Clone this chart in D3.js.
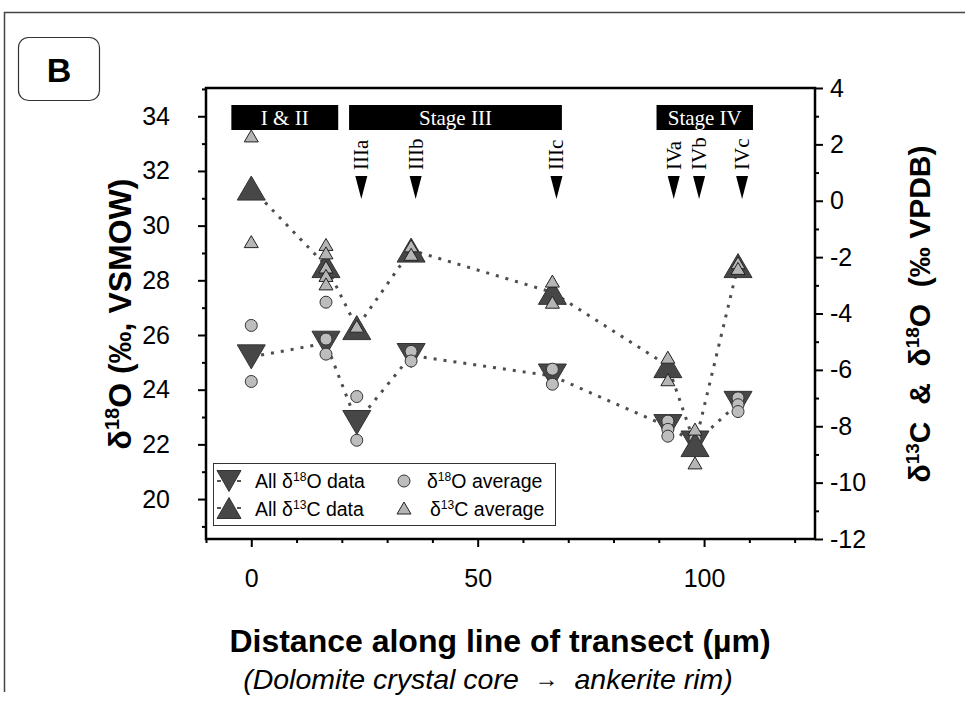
<!DOCTYPE html>
<html><head><meta charset="utf-8">
<script src="https://cdn.jsdelivr.net/npm/d3@7/dist/d3.min.js"></script>
<style>
body{margin:0;background:#fff}
svg text{font-family:"Liberation Sans",Arial,sans-serif}
</style></head><body>
<svg id="c" width="965" height="702"></svg>
<script>
// ---- data ----
const distances = [0, 16.5, 23.3, 35.3, 66.5, 92, 98, 107.5];
const d18O_all = [25.2, 25.7, 22.8, 25.25, 24.5, 22.65, 22.05, 23.5];
const d13C_all = [0.45, -2.3, -4.5, -1.75, -3.25, -5.85, -8.65, -2.3];
const d18O_avgDist = [0,0,16.5,16.5,16.5,23.3,23.3,35.3,35.3,66.5,66.5,92,92,92,98,98,107.5,107.5,107.5];
const d18O_avg = [26.35,24.3,27.2,25.85,25.3,23.75,22.15,25.4,25.05,24.75,24.2,22.85,22.55,22.3,22.2,21.85,23.7,23.45,23.2];
const d13C_avgDist = [0,0,16.5,16.5,16.5,16.5,16.5,23.3,35.3,35.3,66.5,66.5,92,92,98,98,107.5,107.5];
const d13C_avg = [2.3,-1.45,-1.55,-1.85,-2.35,-2.65,-2.95,-4.45,-1.6,-1.9,-2.85,-3.6,-5.55,-6.35,-8.1,-9.3,-2.2,-2.4];
const stageNames = ["I & II","Stage III","Stage IV"];
const stageStart = [-4.4, 21.6, 89.5];
const stageEnd = [19.2, 68.6, 110.8];
const subStages = ["IIIa","IIIb","IIIc","IVa","IVb","IVc"];
const subStagePos = [24.3, 36.3, 67.4, 93.3, 98.9, 108.4];
const xTicks = [0, 50, 100];
const xMinor = [-10,10,20,30,40,60,70,80,90,110,120];
const leftTicks = [20,22,24,26,28,30,32,34];
const leftMinor = [19,21,23,25,27,29,31,33,35];
const rightTicks = [-12,-10,-8,-6,-4,-2,0,2,4];
const rightMinor = [-11,-9,-7,-5,-3,-1,1,3];

// ---- layout ----
const L = 206, R = 815, T = 88, B = 539;
const svg = d3.select("#c");
const x = d3.scaleLinear().domain([-10, 124.5]).range([L, R]);
const yR = d3.scaleLinear().domain([-12, 4]).range([B, T]);
const yL = d3.scaleLinear().domain([1.03091*-12+30.91, 1.03091*4+30.91]).range([B, T]);

// outer frame
svg.append("path").attr("d", "M4.5,692V12.5H965").attr("fill","none").attr("stroke","#444").attr("stroke-width",1.5);
// B box
svg.append("rect").attr("x",18.5).attr("y",37.5).attr("width",81).attr("height",63).attr("rx",10)
  .attr("fill","#fff").attr("stroke","#333").attr("stroke-width",1.2);
svg.append("text").attr("x",59).attr("y",82).attr("text-anchor","middle")
  .attr("font-size",34).attr("font-weight","bold").text("B");

// axes
function styleAxis(g){ g.select(".domain").remove(); g.selectAll("line").attr("stroke","#000").attr("stroke-width",2);
  g.selectAll("text").attr("font-size",25).attr("fill","#000"); }
const fmt = d => String(d);
svg.append("g").attr("transform",`translate(${L},0)`).call(d3.axisLeft(yL).tickValues(leftTicks).tickSize(8).tickPadding(28).tickFormat(fmt)).call(styleAxis);
svg.append("g").attr("transform",`translate(${L},0)`).call(d3.axisLeft(yL).tickValues(leftMinor.filter(v=>yL(v)>=T&&yL(v)<=B)).tickSize(4).tickFormat("")).call(styleAxis);
svg.append("g").attr("transform",`translate(${R},0)`).call(d3.axisRight(yR).tickValues(rightTicks).tickSize(8).tickPadding(7).tickFormat(fmt)).call(styleAxis);
svg.append("g").attr("transform",`translate(${R},0)`).call(d3.axisRight(yR).tickValues(rightMinor).tickSize(4).tickFormat("")).call(styleAxis);
svg.append("g").attr("transform",`translate(0,${B})`).call(d3.axisBottom(x).tickValues(xTicks).tickSize(8).tickPadding(22).tickFormat(fmt)).call(styleAxis);
svg.append("g").attr("transform",`translate(0,${B})`).call(d3.axisBottom(x).tickValues(xMinor).tickSize(4).tickFormat("")).call(styleAxis);
// plot frame
svg.append("rect").attr("x",L).attr("y",T).attr("width",R-L).attr("height",B-T)
  .attr("fill","none").attr("stroke","#000").attr("stroke-width",2.5);

// stage bars
const serif = "'Liberation Serif','Times New Roman',serif";
const stages = svg.append("g");
stageNames.forEach((n,i)=>{
  stages.append("rect").attr("x",x(stageStart[i])).attr("y",105).attr("width",x(stageEnd[i])-x(stageStart[i])).attr("height",25).attr("fill","#000");
  stages.append("text").attr("x",(x(stageStart[i])+x(stageEnd[i]))/2).attr("y",125).attr("text-anchor","middle")
    .attr("fill","#fff").attr("font-size",21).style("font-family",serif).text(n);
});
subStages.forEach((n,i)=>{
  const cx = x(subStagePos[i]);
  stages.append("text").attr("transform",`translate(${cx+7},170) rotate(-90)`).attr("text-anchor","start")
    .attr("font-size",21).style("font-family",serif).attr("fill","#000").text(n);
  stages.append("path").attr("d",`M${cx-6},176L${cx+6},176L${cx},199Z`).attr("fill","#000");
});

// lines
const lineO = d3.line().x((d,i)=>x(distances[i])).y(d=>yL(d));
const lineC = d3.line().x((d,i)=>x(distances[i])).y(d=>yR(d));
svg.append("path").attr("d",lineO(d18O_all)).attr("fill","none").attr("stroke","#4d4d4d").attr("stroke-width",3).attr("stroke-dasharray","3,7");
svg.append("path").attr("d",lineC(d13C_all)).attr("fill","none").attr("stroke","#4d4d4d").attr("stroke-width",3).attr("stroke-dasharray","3,7");

function tri(w,h,down){ return down ? `M${-w/2},${-h/2}L${w/2},${-h/2}L0,${h/2}Z` : `M${-w/2},${h/2}L${w/2},${h/2}L0,${-h/2}Z`; }
const dark = "#474747", light = "#b5b5b5";
// O all
svg.append("g").selectAll("path").data(d18O_all).join("path")
  .attr("transform",(d,i)=>`translate(${x(distances[i])},${yL(d)})`).attr("d",tri(28,24,true))
  .attr("fill",dark).attr("stroke","#333").attr("stroke-width",1);
// O avg
svg.append("g").selectAll("circle").data(d18O_avg).join("circle")
  .attr("cx",(d,i)=>x(d18O_avgDist[i])).attr("cy",d=>yL(d)).attr("r",6)
  .attr("fill","#bdbdbd").attr("stroke","#333").attr("stroke-width",1);
// C all
svg.append("g").selectAll("path").data(d13C_all).join("path")
  .attr("transform",(d,i)=>`translate(${x(distances[i])},${yR(d)})`).attr("d",tri(28,24,false))
  .attr("fill",dark).attr("stroke","#333").attr("stroke-width",1);
// C avg
svg.append("g").selectAll("path").data(d13C_avg).join("path")
  .attr("transform",(d,i)=>`translate(${x(d13C_avgDist[i])},${yR(d)})`).attr("d",tri(14,12,false))
  .attr("fill",light).attr("stroke","#222").attr("stroke-width",1);

// legend
const lg = svg.append("g");
lg.append("rect").attr("x",213.5).attr("y",463.5).attr("width",342).attr("height",62).attr("fill","#fff").attr("stroke","#333").attr("stroke-width",1);
function legRow(y, down){
  lg.append("path").attr("d",`M217,${y}H221M237,${y}H241`).attr("stroke","#555").attr("stroke-width",2);
  lg.append("path").attr("transform",`translate(229,${y})`).attr("d",tri(24,21,down)).attr("fill",dark).attr("stroke","#333");
}
legRow(481,true); legRow(508,false);
lg.append("circle").attr("cx",404).attr("cy",481).attr("r",6).attr("fill","#bdbdbd").attr("stroke","#333");
lg.append("path").attr("transform",`translate(404,508)`).attr("d",tri(14,12,false)).attr("fill",light).attr("stroke","#222");
function supText(g, xx, yy, pre, sup, post, fs){
  const t = g.append("text").attr("x",xx).attr("y",yy).attr("font-size",fs);
  t.append("tspan").text(pre);
  t.append("tspan").attr("dy",-fs*0.38).attr("font-size",fs*0.62).text(sup);
  t.append("tspan").attr("dy",fs*0.38).text(post);
  return t;
}
supText(lg,255,488,"All δ","18","O data",19.5);
supText(lg,255,516,"All δ","13","C data",19.5);
supText(lg,427,488,"δ","18","O average",19.5);
supText(lg,430,516,"δ","13","C average",19.5);

// axis titles
const lt = svg.append("text").attr("transform",`translate(131,314) rotate(-90)`).attr("text-anchor","middle")
  .attr("font-size",32).attr("font-weight","bold");
lt.append("tspan").text("δ"); lt.append("tspan").attr("dy",-12).attr("font-size",20).text("18");
lt.append("tspan").attr("dy",12).text("O (‰, VSMOW)");
const rt = svg.append("text").attr("transform",`translate(930,314) rotate(-90)`).attr("text-anchor","middle")
  .attr("font-size",30).attr("font-weight","bold").style("white-space","pre");
rt.append("tspan").text("δ"); rt.append("tspan").attr("dy",-11).attr("font-size",19).text("13");
rt.append("tspan").attr("dy",11).text("C  &  δ"); rt.append("tspan").attr("dy",-11).attr("font-size",19).text("18");
rt.append("tspan").attr("dy",11).text("O  (‰ VPDB)");
svg.append("text").attr("x",500).attr("y",652).attr("text-anchor","middle").attr("font-size",32).attr("font-weight","bold")
  .text("Distance along line of transect (µm)");
const st = svg.append("text").attr("x",488).attr("y",689).attr("text-anchor","middle").attr("font-size",28.5).attr("font-style","italic").style("white-space","pre");
st.append("tspan").text("(Dolomite crystal core  ");
st.append("tspan").attr("font-size",24).attr("font-style","normal").attr("dy",-2).style("font-family",serif).text("→");
st.append("tspan").attr("dy",2).text("  ankerite rim)");
</script></body></html>
